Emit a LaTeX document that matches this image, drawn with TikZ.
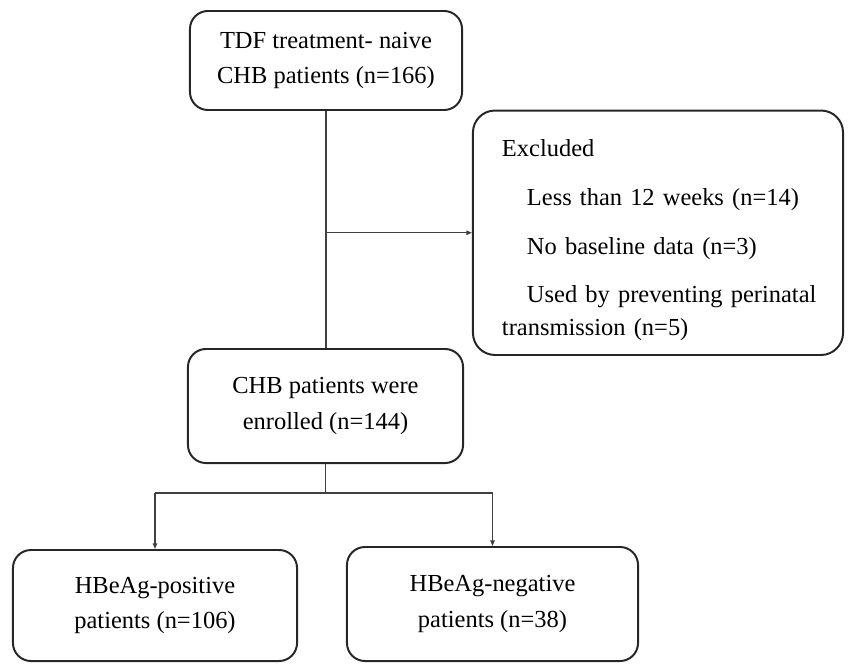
\documentclass[tikz,border=0pt]{standalone}
\usepackage{fontspec}
\setmainfont{Liberation Serif}
\usetikzlibrary{arrows.meta}

\tikzset{
    flowbox/.style={draw=black!85, line width=1.4pt, rounded corners=0.45cm, align=center,
        font=\fontsize{17.4}{24.9}\selectfont},
    link/.style={draw=black!75, line width=0.9pt},
    linkarrow/.style={link, -{Triangle[length=0.14cm, width=0.11cm]}}
}

\begin{document}
\begin{tikzpicture}[x=0.025cm, y=-0.025cm]
    \useasboundingbox (0,0) rectangle (848,664);

    % Draw the boxes
    \node[flowbox, minimum width=6.8cm, minimum height=2.475cm] (Naive) at (326,60.5)
        {TDF treatment- naive\\CHB patients (n=166)};
    \node[flowbox, rounded corners=0.55cm, minimum width=9.25cm, minimum height=6.11cm,
        text width=8.8cm, align=left, font=\fontsize{17.4}{22.8}\selectfont] (Excluded) at (658,232.75)
        {\rule{0pt}{22pt}\hspace*{0.5cm}Excluded\\[12pt]
         \hspace*{1.125cm}Less than 12 weeks (n=14)\\[12pt]
         \hspace*{1.125cm}No baseline data (n=3)\\[12pt]
         \hspace*{1.125cm}\makebox[7.675cm][s]{Used by preventing perinatal}\\
         \hspace*{0.5cm}transmission (n=5)};
    \node[flowbox, minimum width=6.875cm, minimum height=2.85cm] (Enrolled) at (325.5,406)
        {CHB patients were\\enrolled (n=144)};
    \node[flowbox, minimum width=7.1cm, minimum height=2.775cm] (Positive) at (155,605.5)
        {HBeAg-positive\\patients (n=106)};
    \node[flowbox, minimum width=7.275cm, minimum height=2.85cm] (Negative) at (492.5,604)
        {HBeAg-negative\\patients (n=38)};

    % Split point below the enrolled box
    \coordinate (Split) at (325,493);

    % Connect the boxes
    \draw[link] (Naive.south) -- (Naive.south |- Enrolled.north);
    \draw[linkarrow] (Naive.south |- Excluded.west) -- (Excluded.west);
    \draw[link] (Enrolled.south) -- (Enrolled.south |- Split);
    \draw[link] (Positive.north |- Split) -- (Negative.north |- Split);
    \draw[linkarrow] (Positive.north |- Split) -- (Positive.north);
    \draw[linkarrow] (Negative.north |- Split) -- (Negative.north);

\end{tikzpicture}
\end{document}
